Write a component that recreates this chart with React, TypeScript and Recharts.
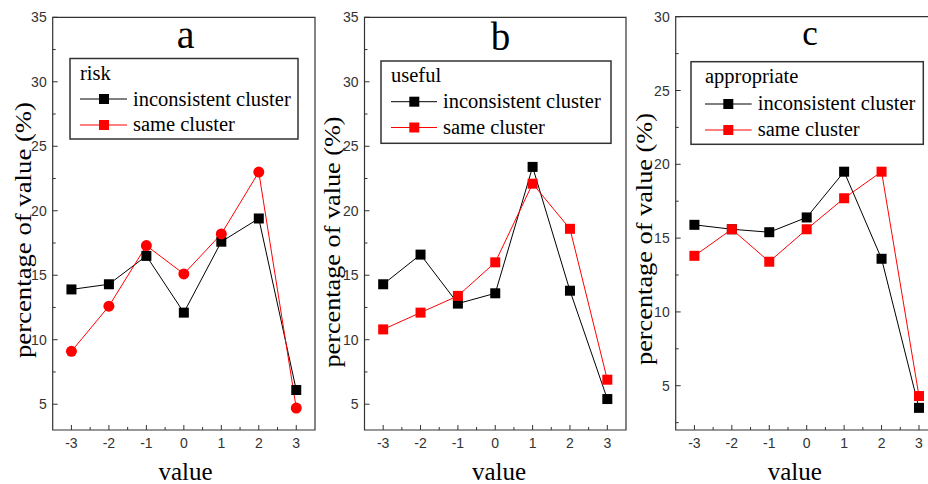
import React from 'react';
import { LineChart, Line, XAxis, YAxis, ReferenceArea } from 'recharts';

// ---- data ----
const xValues = [-3, -2, -1, 0, 1, 2, 3];
const riskInconsistent = [13.9, 14.3, 16.5, 12.1, 17.6, 19.4, 6.1];
const riskSame = [9.1, 12.6, 17.3, 15.1, 18.2, 23.0, 4.7];
const usefulInconsistent = [14.3, 16.6, 12.8, 13.6, 23.4, 13.8, 5.4];
const usefulSame = [10.8, 12.1, 13.4, 16.0, 22.1, 18.6, 6.9];
const appropriateInconsistent = [15.9, 15.6, 15.4, 16.4, 19.5, 13.6, 3.5];
const appropriateSame = [13.8, 15.6, 13.4, 15.6, 17.7, 19.5, 4.3];
const xTicks = [-3, -2.5, -2, -1.5, -1, -0.5, 0, 0.5, 1, 1.5, 2, 2.5, 3];
const yTicksAB = [5, 7.5, 10, 12.5, 15, 17.5, 20, 22.5, 25, 27.5, 30, 32.5, 35];
const yTicksC = [2.5, 5, 7.5, 10, 12.5, 15, 17.5, 20, 22.5, 25, 27.5, 30];
const seriesNames = ['inconsistent cluster', 'same cluster'];
const seriesColors = ['#000000', '#ff0000'];
const panelLetters = ['a', 'b', 'c'];
const panelTitles = ['risk', 'useful', 'appropriate'];

const W = 950;
const H = 484;
const AXIS = '#333333';
const AX_W = 1; // axis box thickness reserved (must be > 0 for axes to render)

const layouts = [
  {
    inc: riskInconsistent, same: riskSame, sameShape: 'circle', yDomain: [3, 35], yTicks: yTicksAB,
    box: { l: 52.7, r: 315, t: 17.3, b: 430 },
    letter: { x: 185.7, y: 48, size: 40 },
    yLabel: { x: 31, y: 230, len: 256 },
    xLabel: { x: 185.5, y: 480, len: 55 },
    legend: { x: 70, y: 58.5, w: 228, h: 80.5, titleX: 80, titleY: 80, lx1: 80, lx2: 127, mx: 104, rowY: [99, 125], textX: 133, textY: [106, 131] },
  },
  {
    inc: usefulInconsistent, same: usefulSame, sameShape: 'square', yDomain: [3, 35], yTicks: yTicksAB,
    box: { l: 364.5, r: 626, t: 17.3, b: 430 },
    letter: { x: 500.5, y: 50, size: 39 },
    yLabel: { x: 340, y: 242, len: 251 },
    xLabel: { x: 499, y: 480, len: 55 },
    legend: { x: 381, y: 61, w: 230, h: 82.3, titleX: 391, titleY: 82.3, lx1: 391, lx2: 437, mx: 414.3, rowY: [101.7, 127.5], textX: 443, textY: [108.3, 133.5] },
  },
  {
    inc: appropriateInconsistent, same: appropriateSame, sameShape: 'square', yDomain: [2, 30], yTicks: yTicksC,
    box: { l: 675.7, r: 937.7, t: 16.7, b: 430 },
    letter: { x: 810, y: 45, size: 35 },
    yLabel: { x: 651.5, y: 239, len: 252 },
    xLabel: { x: 794.7, y: 480, len: 56 },
    legend: { x: 691, y: 61.7, w: 232.3, h: 82.6, titleX: 705, titleY: 83.3, lx1: 705, lx2: 751.7, mx: 728.3, rowY: [104, 130], textX: 757.7, textY: [110, 135.7] },
  },
];

const SANS = "'Liberation Sans', Arial, sans-serif";
const SERIF = "'Liberation Serif', 'Times New Roman', serif";

const XTick = (props: any) => {
  const { x, payload, plotBottom } = props;
  const y = plotBottom;
  const v = payload.value;
  const major = Number.isInteger(v);
  return (
    <g>
      <line x1={x} x2={x} y1={y} y2={y - (major ? 5 : 3)} stroke={AXIS} strokeWidth={1} />
      {major && (
        <text x={x} y={y + 18} textAnchor="middle" fontFamily={SANS} fontSize={14} fill="#333">
          {String(v)}
        </text>
      )}
    </g>
  );
};

const YTick = (props: any) => {
  const { y, payload, plotLeft } = props;
  const x = plotLeft;
  const v = payload.value;
  const major = Number.isInteger(v);
  return (
    <g>
      <line x1={x} x2={x + (major ? 5 : 3)} y1={y} y2={y} stroke={AXIS} strokeWidth={1} />
      {major && (
        <text x={x - 6} y={y + 5} textAnchor="end" fontFamily={SANS} fontSize={14} fill="#333">
          {String(v)}
        </text>
      )}
    </g>
  );
};

const squareDot = (color: string, size: number) => (p: any) => {
  if (p.cx == null || p.cy == null) return <g key={`e-${p.index}`} />;
  return <rect key={`s-${p.index}`} x={p.cx - size / 2} y={p.cy - size / 2} width={size} height={size} fill={color} />;
};
const circleDot = (color: string, r: number) => (p: any) => {
  if (p.cx == null || p.cy == null) return <g key={`e-${p.index}`} />;
  return <circle key={`c-${p.index}`} cx={p.cx} cy={p.cy} r={r} fill={color} />;
};

const Panel = ({ cfg }: { cfg: any }) => {
  const data = xValues.map((x, i) => ({ x, inc: cfg.inc[i], same: cfg.same[i] }));
  const { box } = cfg;
  return (
    <div style={{ position: 'absolute', left: 0, top: 0 }}>
      <LineChart
        width={W}
        height={H}
        data={data}
        margin={{ top: box.t, left: box.l - AX_W, right: W - box.r, bottom: H - box.b - AX_W }}
      >
        <XAxis
          dataKey="x"
          type="number"
          domain={[-3.5, 3.5]}
          ticks={xTicks}
          interval={0}
          tickSize={0}
          tickMargin={0}
          height={AX_W}
          tickLine={false}
          axisLine={false}
          tick={(p: any) => <XTick {...p} plotBottom={box.b} />}
          allowDataOverflow
        />
        <YAxis
          type="number"
          domain={cfg.yDomain}
          ticks={cfg.yTicks}
          interval={0}
          tickSize={0}
          tickMargin={0}
          width={AX_W}
          tickLine={false}
          axisLine={false}
          tick={(p: any) => <YTick {...p} plotLeft={box.l} />}
          allowDataOverflow
        />
        <ReferenceArea
          x1={-3.5}
          x2={3.5}
          y1={cfg.yDomain[0]}
          y2={cfg.yDomain[1]}
          fill="none"
          fillOpacity={0}
          stroke={AXIS}
          strokeWidth={1.2}
          ifOverflow="visible"
        />
        <Line
          dataKey="inc"
          name={seriesNames[0]}
          stroke={seriesColors[0]}
          strokeWidth={1}
          isAnimationActive={false}
          dot={squareDot(seriesColors[0], 10)}
          activeDot={false}
        />
        <Line
          dataKey="same"
          name={seriesNames[1]}
          stroke={seriesColors[1]}
          strokeWidth={1}
          isAnimationActive={false}
          dot={cfg.sameShape === 'circle' ? circleDot(seriesColors[1], 5.5) : squareDot(seriesColors[1], 10)}
          activeDot={false}
        />
      </LineChart>
    </div>
  );
};

const Overlay = () => (
  <svg width={W} height={H} style={{ position: 'absolute', left: 0, top: 0, pointerEvents: 'none' }}>
    {layouts.map((cfg, pi) => {
      const lg = cfg.legend;
      return (
        <g key={pi}>
          <text x={cfg.letter.x} y={cfg.letter.y} textAnchor="middle" fontFamily={SERIF} fontSize={cfg.letter.size} fill="#000">
            {panelLetters[pi]}
          </text>
          <text
            x={0}
            y={0}
            transform={`translate(${cfg.yLabel.x},${cfg.yLabel.y}) rotate(-90)`}
            textAnchor="middle"
            fontFamily={SERIF}
            fontSize={23}
            fill="#000"
            textLength={cfg.yLabel.len}
            lengthAdjust="spacingAndGlyphs"
          >
            percentage of value (%)
          </text>
          <text
            x={cfg.xLabel.x}
            y={cfg.xLabel.y}
            textAnchor="middle"
            fontFamily={SERIF}
            fontSize={25}
            fill="#000"
          >
            value
          </text>
          <rect x={lg.x} y={lg.y} width={lg.w} height={lg.h} fill="#fff" stroke={AXIS} strokeWidth={1.5} />
          <text x={lg.titleX} y={lg.titleY} fontFamily={SERIF} fontSize={20.5} fill="#000">
            {panelTitles[pi]}
          </text>
          {seriesNames.map((name, si) => (
            <g key={si}>
              <line x1={lg.lx1} x2={lg.lx2} y1={lg.rowY[si]} y2={lg.rowY[si]} stroke={seriesColors[si]} strokeWidth={1} />
              <rect x={lg.mx - 5} y={lg.rowY[si] - 5} width={10} height={10} fill={seriesColors[si]} />
              <text x={lg.textX} y={lg.textY[si]} fontFamily={SERIF} fontSize={20.5} fill="#000">
                {name}
              </text>
            </g>
          ))}
        </g>
      );
    })}
  </svg>
);

export default function App() {
  return (
    <div style={{ position: 'absolute', left: 0, top: 0, width: 928, height: 484, overflow: 'hidden', background: '#fff' }}>
      {layouts.map((cfg, i) => (
        <Panel key={i} cfg={cfg} />
      ))}
      <Overlay />
    </div>
  );
}
